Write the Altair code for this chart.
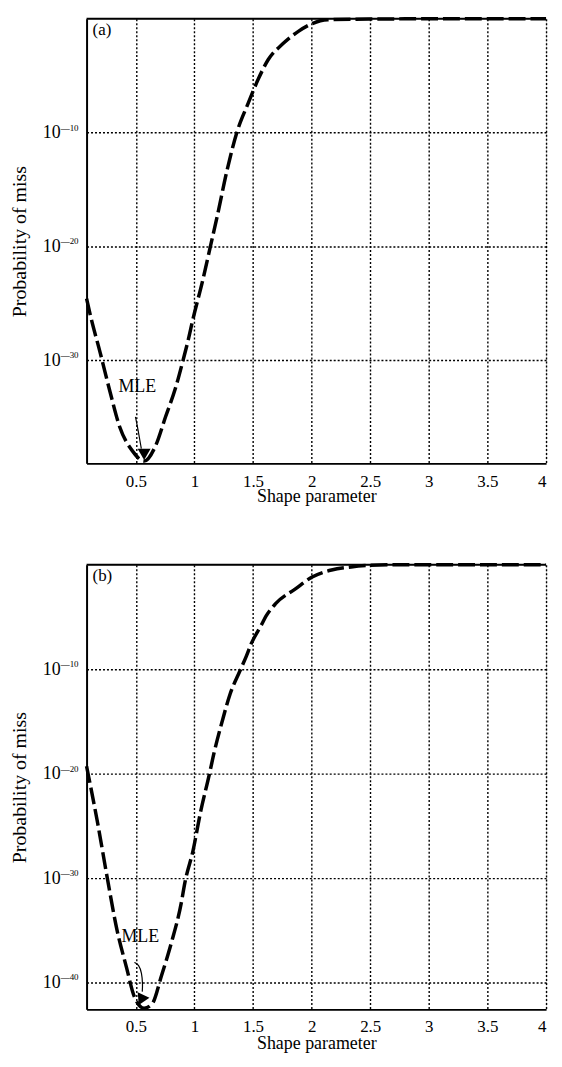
import altair as alt
import pandas as pd

# ---- data (x = shape parameter, log10 of probability of miss)
shape_a = [0.08, 0.113, 0.197, 0.28, 0.363, 0.471, 0.571, 0.671, 0.754, 0.838, 0.904, 0.946,
           0.988, 1.071, 1.137, 1.196, 1.279, 1.362, 1.46, 1.545, 1.629, 1.754, 1.887, 1.987,
           2.137, 2.5, 3.0, 3.5, 4.0]
log_pmiss_a = [-24.6, -26.1, -29.4, -32.8, -35.9, -38.0, -38.9, -37.5, -35.0, -32.5, -30.0, -28.3,
               -26.4, -23.0, -20.0, -17.3, -13.3, -10.0, -7.4, -5.3, -3.6, -2.2, -1.1, -0.5,
               -0.08, -0.02, 0.0, 0.0, 0.0]

shape_b = [0.08, 0.172, 0.255, 0.338, 0.421, 0.488, 0.571, 0.638, 0.721, 0.804, 0.888, 0.918,
           0.988, 1.054, 1.127, 1.168, 1.237, 1.304, 1.387, 1.445, 1.487, 1.57, 1.612, 1.695,
           1.862, 2.0, 2.17, 2.337, 2.5, 2.69, 3.0, 3.5, 4.0]
log_pmiss_b = [-19.3, -24.6, -29.9, -34.9, -38.6, -41.4, -42.5, -42.1, -39.3, -36.2, -32.4, -30.5,
               -27.4, -23.6, -20.1, -18.0, -15.0, -12.4, -10.2, -8.7, -7.5, -5.8, -4.9, -3.7,
               -2.3, -1.2, -0.5, -0.2, -0.05, 0.0, 0.0, 0.0, 0.0]

x_ticks = [0.5, 1, 1.5, 2, 2.5, 3, 3.5, 4]
y_ticks_a = [-10, -20, -30]
y_ticks_b = [-10, -20, -30, -40]
x_domain = [0.08, 4.0]
y_min_a = -39.1
y_min_b = -42.6

# MLE annotations (text position, arrow shaft, arrow head)
mle_a = {"x": 0.513, "l": -32.4}
arrow_a_x = [0.497, 0.522, 0.547]
arrow_a_l = [-35.0, -36.3, -37.8]
head_a = {"x": 0.571, "l": -38.3, "angle": 0}

mle_b = {"x": 0.538, "l": -35.7}
arrow_b_x = [0.488, 0.526, 0.551, 0.559, 0.555]
arrow_b_l = [-38.1, -38.3, -39.1, -40.2, -40.9]
head_b = {"x": 0.546, "l": -41.7, "angle": 25}

FONT = "Liberation Serif"
W = 462
H = 447


def panel(xs, ls, ymin, yticks, tag, mle, ax, al, head, lab_pad, title_y):
    xsc = alt.Scale(domain=x_domain, nice=False, zero=False)
    ysc = alt.Scale(type="log", domain=[10.0 ** ymin, 1.0], nice=False)
    xaxis = alt.Axis(values=x_ticks, title="Shape parameter", grid=True, gridDash=[2, 2],
                     gridColor="black", gridWidth=1.4, gridOpacity=1, ticks=False,
                     labelPadding=lab_pad, labelFlush=True, labelFont=FONT, labelFontSize=17,
                     labelColor="black", titleFont=FONT, titleFontSize=18,
                     titleFontWeight="normal", titleColor="black", titleY=title_y,
                     domainColor="black", domainWidth=2, format="~g")
    yaxis = alt.Axis(values=[10.0 ** e for e in yticks], labels=False,
                     title="Probability of miss", grid=True, gridDash=[2, 2],
                     gridColor="black", gridWidth=1.4, gridOpacity=1, ticks=False,
                     titleFont=FONT, titleFontSize=20, titleFontWeight="normal",
                     titleColor="black", titleX=-57, titleY=H / 2,
                     domainColor="black", domainWidth=2)

    df = pd.DataFrame({"shape": xs, "p": [10.0 ** v for v in ls]})
    curve = alt.Chart(df).mark_line(color="black", strokeWidth=3.5, strokeDash=[17, 5],
                                    interpolate="monotone").encode(
        x=alt.X("shape:Q", scale=xsc, axis=xaxis),
        y=alt.Y("p:Q", scale=ysc, axis=yaxis),
    )

    # y tick labels "10" with a raised exponent
    lab_df = pd.DataFrame({"p": [10.0 ** e for e in yticks],
                           "base": ["10"] * len(yticks),
                           "exp": ["\u2014" + str(-e) for e in yticks]})
    base_txt = alt.Chart(lab_df).mark_text(align="right", baseline="middle", font=FONT,
                                           fontSize=18, color="black", dy=1).encode(
        x=alt.value(-26), y=alt.Y("p:Q", scale=ysc), text="base:N")
    exp_txt = alt.Chart(lab_df).mark_text(align="left", baseline="alphabetic", font=FONT,
                                          fontSize=9, color="black", dy=-2).encode(
        x=alt.value(-26), y=alt.Y("p:Q", scale=ysc), text="exp:N")

    top = alt.Chart(pd.DataFrame({"k": [0]})).mark_rule(color="black", strokeWidth=2).encode(
        x=alt.value(0), x2=alt.value(W), y=alt.value(0))

    tag_df = pd.DataFrame({"t": [tag]})
    tag_txt = alt.Chart(tag_df).mark_text(align="left", baseline="middle", font=FONT,
                                          fontSize=17, color="black").encode(
        x=alt.value(6), y=alt.value(11), text="t:N")

    mle_df = pd.DataFrame({"shape": [mle["x"]], "p": [10.0 ** mle["l"]], "t": ["MLE"]})
    mle_txt = alt.Chart(mle_df).mark_text(align="center", baseline="middle", font=FONT,
                                          fontSize=18, color="black").encode(
        x=alt.X("shape:Q", scale=xsc), y=alt.Y("p:Q", scale=ysc), text="t:N")

    arr_df = pd.DataFrame({"shape": ax, "p": [10.0 ** v for v in al], "i": list(range(len(ax)))})
    shaft = alt.Chart(arr_df).mark_line(color="black", strokeWidth=1.2,
                                        interpolate="basis").encode(
        x=alt.X("shape:Q", scale=xsc), y=alt.Y("p:Q", scale=ysc), order="i:Q")

    head_df = pd.DataFrame({"shape": [head["x"]], "p": [10.0 ** head["l"]]})
    arrow_head = alt.Chart(head_df).mark_point(shape="triangle-down", filled=True, size=170,
                                               color="black", opacity=1,
                                               angle=head["angle"]).encode(
        x=alt.X("shape:Q", scale=xsc), y=alt.Y("p:Q", scale=ysc))

    return alt.layer(curve, base_txt, exp_txt, top, tag_txt, mle_txt, shaft,
                     arrow_head).properties(width=W, height=H)


pa = panel(shape_a, log_pmiss_a, y_min_a, y_ticks_a, "(a)", mle_a, arrow_a_x, arrow_a_l,
           head_a, 10, 24)
pb = panel(shape_b, log_pmiss_b, y_min_b, y_ticks_b, "(b)", mle_b, arrow_b_x, arrow_b_l,
           head_b, 9, 25)

chart = alt.vconcat(pa, pb, spacing=51).properties(
    padding={"left": 1, "top": 0, "right": 0, "bottom": 0}
).configure_view(stroke=None).configure(background="white")

chart.save("out.html", embed_options={"renderer": "svg", "actions": False})
